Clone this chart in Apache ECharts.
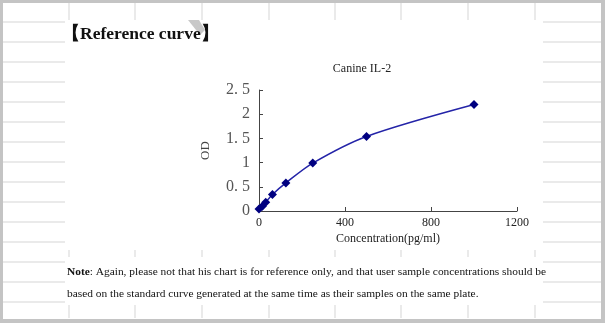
<!DOCTYPE html>
<html><head><meta charset="utf-8">
<script src="https://cdn.jsdelivr.net/npm/echarts@6/dist/echarts.min.js"></script>
<style>html,body{margin:0;padding:0;background:#fff}#c{width:605px;height:323px}</style>
</head><body><div id="c"></div>
<script>
var concentrations = [0, 15.6, 31.25, 62.5, 125, 250, 500, 1000];
var odValues = [0.04, 0.10, 0.18, 0.34, 0.58, 0.99, 1.54, 2.20];
var yTickLabels = {"0":"0","0.5":"0. 5","1":"1","1.5":"1. 5","2":"2","2.5":"2. 5"};
var xTickLabels = {"0":"0","400":"400","800":"800","1200":"1200"};

var serif = '"Liberation Serif","Times New Roman",serif';
var gridColor = '#e3e3e3';
var g = [];
// spreadsheet-like background
var colXs = [69,135,202,269,335,401,468,535];
colXs.forEach(function(x){
  [[3,20],[250,257],[305,318]].forEach(function(s){
    g.push({type:'line',shape:{x1:x,y1:s[0],x2:x,y2:s[1]},style:{stroke:gridColor,lineWidth:1.5},silent:true});
  });
});
for (var y=22; y<=302; y+=20){
  g.push({type:'line',shape:{x1:3,y1:y,x2:65,y2:y},style:{stroke:gridColor,lineWidth:1.5},silent:true});
  g.push({type:'line',shape:{x1:543,y1:y,x2:601,y2:y},style:{stroke:gridColor,lineWidth:1.5},silent:true});
}
// border
g.push({type:'rect',shape:{x:0,y:0,width:605,height:3},style:{fill:'#c4c4c4'},silent:true});
g.push({type:'rect',shape:{x:0,y:0,width:3,height:323},style:{fill:'#c4c4c4'},silent:true});
g.push({type:'rect',shape:{x:0,y:319,width:605,height:4},style:{fill:'#c4c4c4'},silent:true});
g.push({type:'rect',shape:{x:601,y:0,width:4,height:323},style:{fill:'#c4c4c4'},silent:true});
// dog-ear mark
g.push({type:'polygon',shape:{points:[[188,20],[199,20],[205,30],[200,35]]},style:{fill:'#c8c8c8'},silent:true});
// heading
g.push({type:'text',left:62,top:25,style:{text:'【Reference curve】',font:'bold 17.5px '+serif,fill:'#111'}});
// note
g.push({type:'text',left:67,top:261,style:{
  text:'{b|Note}: Again, please not that his chart is for reference only, and that user sample concentrations should be\nbased on the standard curve generated at the same time as their samples on the same plate.',
  font:'11.4px '+serif,fill:'#111',lineHeight:22,
  rich:{b:{fontWeight:'bold',fontFamily:serif,fontSize:11.4,fill:'#111'}}}});

var chart = echarts.init(document.getElementById('c'));
chart.setOption({
  animation:false,
  backgroundColor:'#fff',
  graphic:g,
  title:{text:'Canine IL-2',left:357,top:58,textAlign:'center',textStyle:{fontFamily:serif,fontSize:12,fontWeight:'normal',color:'#222'}},
  grid:{left:259,right:88,top:90,bottom:112},
  xAxis:{type:'value',min:0,max:1200,interval:400,
    name:'Concentration(pg/ml)',nameLocation:'middle',nameGap:22,
    nameTextStyle:{fontFamily:serif,fontSize:12,color:'#222'},
    axisLine:{lineStyle:{color:'#444',width:1}},
    axisTick:{inside:true,length:4,lineStyle:{color:'#444'}},
    axisLabel:{fontFamily:serif,fontSize:12,color:'#222',margin:6,formatter:function(v){return xTickLabels[String(v)];}},
    splitLine:{show:false}},
  yAxis:{type:'value',min:0,max:2.5,interval:0.5,
    name:'OD',nameLocation:'middle',nameGap:47,nameRotate:90,
    nameTextStyle:{fontFamily:serif,fontSize:13,color:'#444'},
    axisLine:{show:true,lineStyle:{color:'#444',width:1}},
    axisTick:{show:true,inside:true,length:4,lineStyle:{color:'#444'}},
    axisLabel:{fontFamily:serif,fontSize:16,color:'#555',margin:9,formatter:function(v){return yTickLabels[String(v)];}},
    splitLine:{show:false}},
  series:[{type:'line',data:concentrations.map(function(c,i){return [c,odValues[i]];}),
    smooth:0.3,symbol:'diamond',symbolSize:9,showAllSymbol:true,
    lineStyle:{color:'#2424a8',width:1.5},itemStyle:{color:'#000080'}}]
});
</script></body></html>
